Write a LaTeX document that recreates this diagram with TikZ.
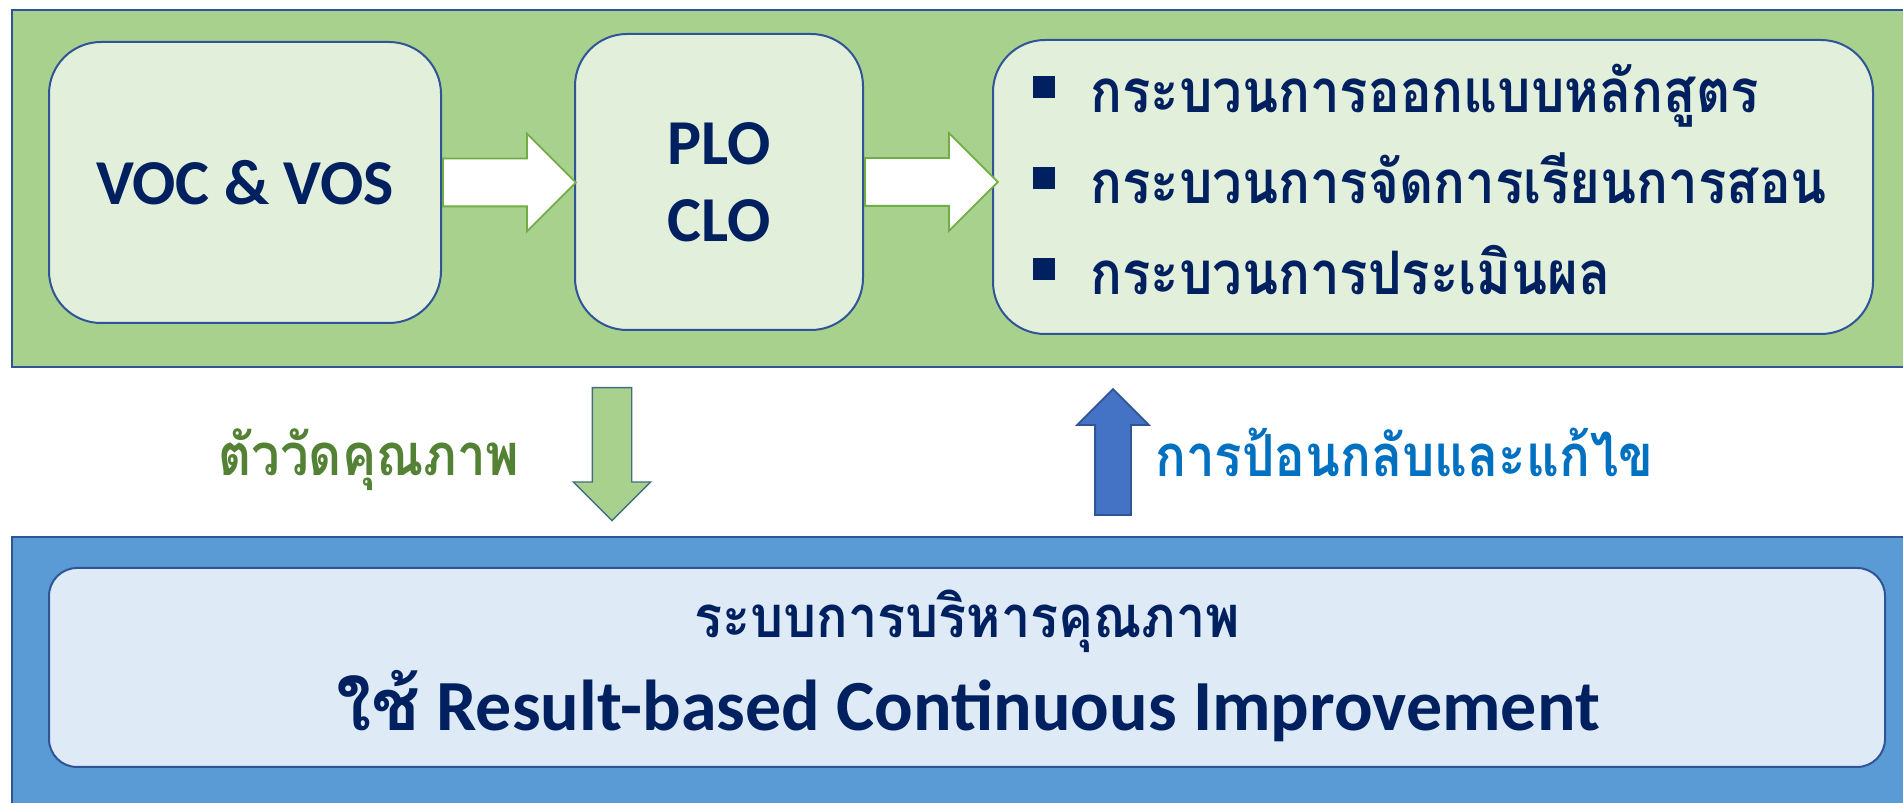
\documentclass[tikz,border=0pt]{standalone}
\usepackage{fontspec}
\setmainfont{Carlito}
\newfontfamily\thaifont[Script=Thai]{Loma}
\usetikzlibrary{shapes.arrows,positioning}
\definecolor{PanelGreen}{HTML}{A9D18E}
\definecolor{BoxGreen}{HTML}{E2EFDA}
\definecolor{EdgeBlue}{HTML}{2F5597}
\definecolor{TextNavy}{HTML}{002060}
\definecolor{ArrowGreen}{HTML}{70AD47}
\definecolor{LabelGreen}{HTML}{548235}
\definecolor{LabelBlue}{HTML}{0070C0}
\definecolor{PanelBlue}{HTML}{5B9BD5}
\definecolor{BoxBlue}{HTML}{DEEBF7}
\definecolor{ArrowBlue}{HTML}{4472C4}
\newcommand\thnarrow[1]{\scalebox{0.88}[1]{#1}}

\tikzset{
  panel/.style={draw=EdgeBlue, line width=1.3pt},
  stagebox/.style={draw=EdgeBlue, fill=BoxGreen, line width=1pt, rounded corners=26pt,
    inner sep=0pt, text=TextNavy, align=center, font=\bfseries\fontsize{32}{38.5}\selectfont},
  flowarrow/.style={single arrow, draw=ArrowGreen, fill=white, line width=0.9pt, inner xsep=0pt,
    inner ysep=11.5pt, minimum width=48pt, single arrow head extend=12.5pt, single arrow tip angle=90,
    minimum height=66.5pt, anchor=tail},
  bulletbox/.style={fill=TextNavy, inner sep=0pt, minimum size=11pt},
  listtext/.style={anchor=base west, inner sep=0pt, text=TextNavy, font=\thaifont\bfseries\fontsize{30}{36}\selectfont},
  sidelabel/.style={anchor=base west, inner sep=0pt, font=\thaifont\bfseries\fontsize{29}{35}\selectfont}
}

\begin{document}
\begin{tikzpicture}[x=0.5pt, y=0.5pt]
\useasboundingbox (0,0) rectangle (1903,803);
% top panel
\draw[panel, fill=PanelGreen] (12,436) rectangle (1920,793);
\node[stagebox, minimum width=196pt, minimum height=140.5pt] (voc) at (245,620.5) {VOC \& VOS};
\node[stagebox, minimum width=144pt, minimum height=148pt] (plo) at (719,621) {PLO\\CLO};
\node[stagebox, minimum width=440pt, minimum height=147pt] (proc) at (1433,616) {};
\node[flowarrow] (arr1) at (voc.east) {};
\node[flowarrow] (arr2) at (plo.east) {};
\foreach \txt/\yb [count=\i] in {กระบวนการออกแบบหลักสูตร/690, กระบวนการจัดการเรียนการสอน/599, กระบวนการประเมินผล/508}{
  \node[bulletbox] (bul\i) at (1044,\yb+26) {};
  \node[listtext] (item\i) at (1090,\yb) {\thnarrow{\txt}};
}

% middle arrows
\coordinate (measTail) at (612,416);
\coordinate (backTail) at (1113,287);
\node[single arrow, rotate=-90, anchor=tail, draw=EdgeBlue!70!ArrowGreen, fill=PanelGreen, line width=0.7pt,
  inner xsep=0pt, inner ysep=9.5pt, minimum width=38pt, single arrow head extend=9.5pt, single arrow tip angle=90,
  minimum height=66.5pt] (measure) at (measTail) {};
\node[single arrow, rotate=90, anchor=tail, draw=EdgeBlue, fill=ArrowBlue, line width=0.9pt,
  inner xsep=0pt, inner ysep=8.5pt, minimum width=35pt, single arrow head extend=9pt, single arrow tip angle=90,
  minimum height=63pt] (feedback) at (backTail) {};
\node[sidelabel, text=LabelGreen] (measlabel) at (218,327) {\thnarrow{ตัววัดคุณภาพ}};
\node[sidelabel, text=LabelBlue] (backlabel) at (1155,326) {\thnarrow{การป้อนกลับและแก้ไข}};

% bottom panel
\draw[panel, fill=PanelBlue] (12,-10) rectangle (1920,266);
\node[draw=EdgeBlue, fill=BoxBlue, line width=1pt, rounded corners=14pt, inner sep=0pt,
  minimum width=918pt, minimum height=99.5pt] (qms) at (967,135.5) {};
\node[anchor=base, inner sep=0pt, text=TextNavy, font=\thaifont\bfseries\fontsize{29}{35}\selectfont]
  (qmstitle) at (967,165) {\scalebox{0.9}[1]{ระบบการบริหารคุณภาพ}};
\node[anchor=base, inner sep=0pt, text=TextNavy, font=\bfseries\fontsize{36}{43}\selectfont]
  (qmsline) at (968,72) {{\thaifont ใช้} Result-based Continuous Improvement};
\end{tikzpicture}
\end{document}
